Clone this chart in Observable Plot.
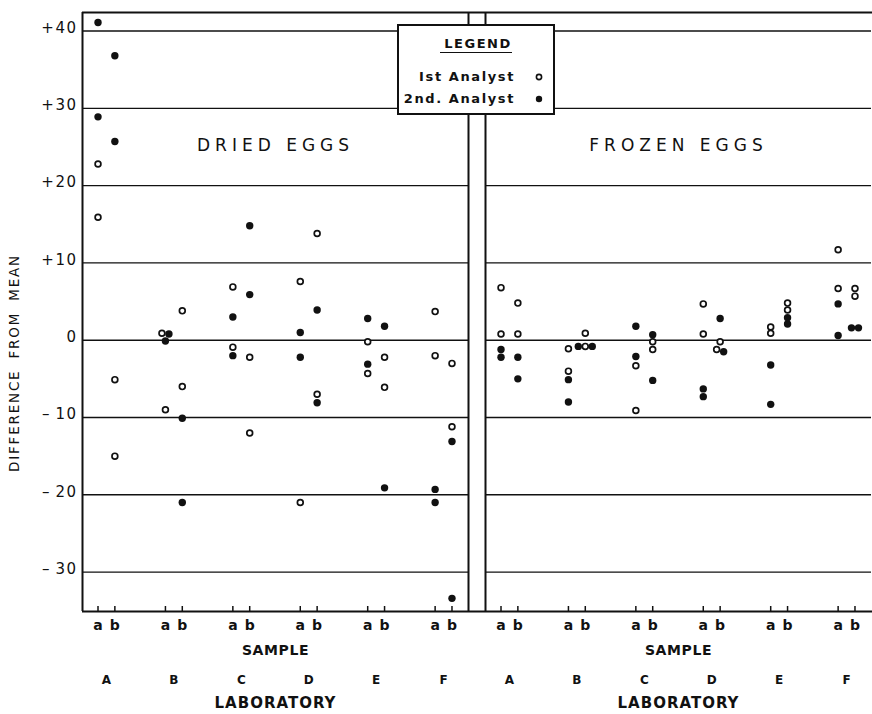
<!DOCTYPE html>
<html>
<head>
<meta charset="utf-8">
<script src="https://cdn.jsdelivr.net/npm/d3@7"></script>
<script src="https://cdn.jsdelivr.net/npm/@observablehq/plot@0.6"></script>
<style>
  body { margin: 0; background: #fff; }
  #chart { position: relative; width: 872px; height: 714px; font-family: "DejaVu Sans", sans-serif; color: #111; }
  #legend { position: absolute; left: 397px; top: 24px; width: 154px; height: 87px; border: 2px solid #111; background: #fff; }
  #legend .head { position: absolute; left: 0; width: 100%; top: 10px; text-align: center; font-size: 13px; font-weight: bold; letter-spacing: 1.5px; line-height: 16px; }
  #legend .head span { border-bottom: 1.6px solid #111; padding-bottom: 1px; padding-left: 4px; }
  #legend .row { position: absolute; right: 38px; font-size: 13px; font-weight: bold; letter-spacing: 1.6px; line-height: 16px; white-space: nowrap; }
  #legend svg { position: absolute; left: 134px; }
</style>
</head>
<body>
<div id="chart"></div>
<script>
const panels = ["DRIED EGGS", "FROZEN EGGS"];
const labs = ["A", "B", "C", "D", "E", "F"];
const samples = ["a", "b"];
const analysts = ["Ist Analyst", "2nd. Analyst"];
const yTicks = [-30, -20, -10, 0, 10, 20, 30, 40];
const yTitle = "DIFFERENCE FROM MEAN";
const sampleTitle = "SAMPLE";
const labTitle = "LABORATORY";

// Difference from mean, two determinations per sample,
// ordered A-a, A-b, B-a, B-b, ... F-a, F-b
const driedFirst = [[22.8, 15.9], [-5.1, -15.0], [0.9, -9.0], [3.8, -6.0], [6.9, -0.9], [-2.2, -12.0],
                    [7.6, -21.0], [13.8, -7.0], [-0.2, -4.3], [-2.2, -6.1], [3.7, -2.0], [-11.2, -3.0]];
const driedSecond = [[41.1, 28.9], [36.8, 25.7], [0.8, -0.1], [-10.1, -21.0], [3.0, -2.0], [5.9, 14.8],
                     [1.0, -2.2], [3.9, -8.1], [2.8, -3.1], [1.8, -19.1], [-19.3, -21.0], [-13.1, -33.4]];
const frozenFirst = [[6.8, 0.8], [4.8, 0.8], [-1.1, -4.0], [0.9, -0.8], [-3.3, -9.1], [-0.2, -1.2],
                     [4.7, 0.8], [-0.2, -1.2], [1.7, 0.9], [4.8, 3.9], [11.7, 6.7], [6.7, 5.7]];
const frozenSecond = [[-1.2, -2.2], [-2.2, -5.0], [-5.1, -8.0], [-0.8, -0.8], [1.8, -2.1], [0.7, -5.2],
                      [-6.3, -7.3], [2.8, -1.5], [-3.2, -8.3], [2.9, 2.1], [4.7, 0.6], [1.6, 1.6]];

// layout
const W = 872, H = 714, mTop = 12, mBottom = 103, mLeft = 82, mRight = 0;
const gap = 17;                                   // width of the post between the two panels
const span = W - mLeft - mRight;
const pad = 2 * gap / (span + gap);               // fx paddingInner giving that gap
const bandW = span * (1 - pad) / (2 - pad);
const frameH = H - mTop - mBottom;
const yDomain = [-35.1, 42.4];
const xDomain = [-0.23, 5.495];
const unitPx = bandW / (xDomain[1] - xDomain[0]);
const sampleStep = 0.25;                          // spacing of sample b after sample a
const dodgePx = 7;                                // side-by-side spacing for coincident points
const yUnitPx = frameH / (yDomain[1] - yDomain[0]);

const values = [[driedFirst, driedSecond], [frozenFirst, frozenSecond]];

// one row per determination; coincident points in a sample are set side by side
const points = [];
const slots = [];
panels.forEach((panel, pi) => {
  labs.forEach((lab, li) => {
    samples.forEach((sample, si) => {
      const k = li * 2 + si;
      const base = li + si * sampleStep;
      slots.push({panel, lab, sample, x: base});
      const pts = [];
      analysts.forEach((analyst, ai) => {
        values[pi][ai][k].forEach(v => pts.push({panel, lab, sample, analyst, ai, y: v, x: base}));
      });
      pts.sort((a, b) => a.y - b.y);
      const clusters = [];
      pts.forEach(p => {
        const last = clusters[clusters.length - 1];
        if (last && (p.y - last[last.length - 1].y) * yUnitPx < 5.8) last.push(p);
        else clusters.push([p]);
      });
      clusters.forEach(c => {
        if (c.length > 1) {
          const opens = c.filter(p => p.ai === 0), fills = c.filter(p => p.ai === 1);
          const h = Math.floor(fills.length / 2);
          const order = [...fills.slice(0, h), ...opens, ...fills.slice(h)];
          order.forEach((p, i) => { p.x = base + (i - (order.length - 1) / 2) * dodgePx / unitPx; });
        }
        points.push(...c);
      });
    });
  });
});

const labSlots = panels.flatMap(panel => labs.map((lab, li) => ({panel, lab, x: li + sampleStep / 2})));
const leftOnly = [{panel: panels[0]}];
const fmt = d => d > 0 ? "+" + d : d < 0 ? "\u2013\u2009" + Math.abs(d) : "0";
const ink = "#111";

const plot = Plot.plot({
  width: W, height: H,
  marginTop: mTop, marginBottom: mBottom, marginLeft: mLeft, marginRight: mRight,
  style: {fontFamily: "DejaVu Sans, sans-serif", color: ink, background: "#fff"},
  fx: {domain: panels, paddingInner: pad, paddingOuter: 0, axis: null, label: null},
  x: {domain: xDomain, axis: null},
  y: {domain: yDomain, axis: null},
  marks: [
    Plot.ruleY(yTicks, {stroke: ink, strokeWidth: 1.4}),
    // panel frame: top and bottom run across the post
    Plot.ruleY([yDomain[1], yDomain[0]], {stroke: ink, strokeWidth: 2, insetRight: -gap}),
    Plot.ruleX([xDomain[0]], {stroke: ink, strokeWidth: 2}),
    Plot.ruleX(leftOnly, {fx: "panel", x: () => xDomain[1], stroke: ink, strokeWidth: 2}),
    // sample ticks on the bottom edge
    Plot.tickX(slots, {fx: "panel", x: "x", stroke: ink, strokeWidth: 1.5, insetTop: frameH - 5}),
    Plot.axisY(yTicks, {tickSize: 0, tickPadding: 5, tickFormat: fmt, fontSize: 15, dy: -3, label: null}),
    Plot.text(leftOnly, {fx: "panel", text: () => yTitle, frameAnchor: "left", textAnchor: "middle",
      rotate: -90, dx: -68, dy: 51, fontSize: 13.5, fill: ink}),
    Plot.text(panels, {fx: d => d, text: d => d, frameAnchor: "top", dy: 126, fontSize: 17}),
    Plot.dot(points.filter(d => d.ai === 0), {fx: "panel", x: "x", y: "y", r: 2.9, stroke: ink, strokeWidth: 1.7, fill: "#fff"}),
    Plot.dot(points.filter(d => d.ai === 1), {fx: "panel", x: "x", y: "y", r: 3.7, fill: ink, stroke: "none"}),
    Plot.text(slots, {fx: "panel", x: "x", text: "sample", frameAnchor: "bottom", dy: 18, fontSize: 14, fontWeight: "bold"}),
    Plot.text(panels, {fx: d => d, text: () => sampleTitle, frameAnchor: "bottom", dy: 43, fontSize: 14, fontWeight: "bold"}),
    Plot.text(labSlots, {fx: "panel", x: "x", text: "lab", frameAnchor: "bottom", dy: 72, fontSize: 12, fontWeight: "bold"}),
    Plot.text(panels, {fx: d => d, text: () => labTitle, frameAnchor: "bottom", dy: 96, fontSize: 15, fontWeight: "bold"})
  ]
});

// letter spacing of the hand-lettered titles
const spacing = new Map([
  [panels[0], "5px"], [panels[1], "5px"], [yTitle, "1.8px"], [labTitle, "1px"], [sampleTitle, "0.6px"]
]);
d3.select(plot).selectAll("text").each(function () {
  const s = spacing.get(this.textContent);
  if (s) d3.select(this).style("letter-spacing", s).style("word-spacing", this.textContent === yTitle ? "5px" : null);
});
d3.select(plot).selectAll("text").filter(function () { return /^[+\u2013]?\u2009?\d+$/.test(this.textContent); })
  .style("letter-spacing", "1.5px");

const chart = document.getElementById("chart");
chart.appendChild(plot);

// legend sign
const legend = d3.select(chart).append("div").attr("id", "legend");
legend.append("div").attr("class", "head").append("span").text("LEGEND");
const rowTop = [43, 65];
analysts.forEach((a, i) => {
  legend.append("div").attr("class", "row").style("top", rowTop[i] + "px").text(a);
  const s = legend.append("svg").attr("width", 12).attr("height", 12).style("top", (rowTop[i] + 2) + "px");
  if (i === 0) s.append("circle").attr("cx", 6).attr("cy", 6).attr("r", 2.6).attr("fill", "#fff").attr("stroke", ink).attr("stroke-width", 1.6);
  else s.append("circle").attr("cx", 6).attr("cy", 6).attr("r", 3.2).attr("fill", ink);
});
</script>
</body>
</html>
